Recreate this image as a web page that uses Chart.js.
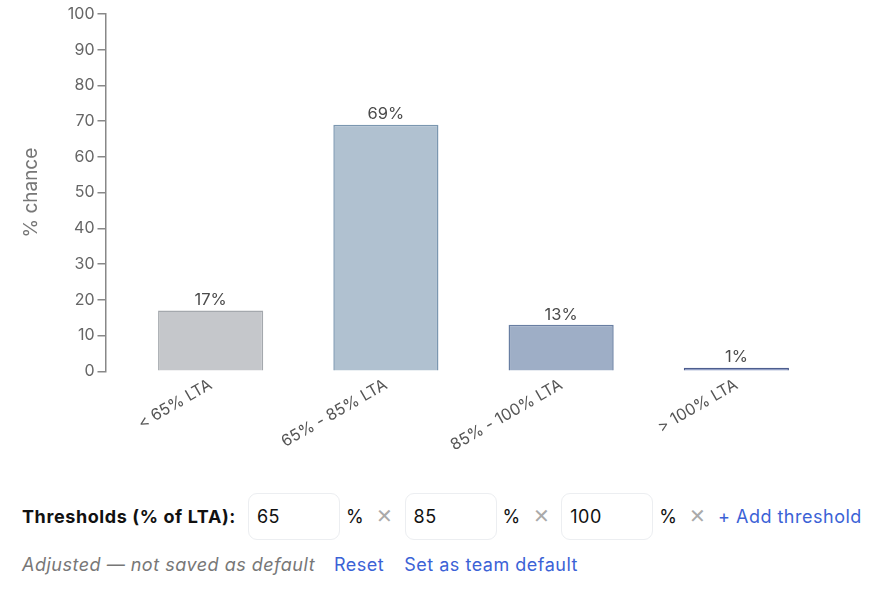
<!DOCTYPE html>
<html>
<head>
<meta charset="utf-8">
<script src="https://cdn.jsdelivr.net/npm/chart.js@4"></script>
<style>
  body { margin: 0; background: #fff; font-family: Inter, "Liberation Sans", sans-serif; }
  #wrap { position: relative; width: 888px; height: 604px; }
  #chartBox { position: absolute; left: 0; top: 0; width: 888px; height: 459px; }
  .row { position: absolute; left: 22px; display: flex; align-items: center; font-size: 18px; letter-spacing: 0.5px; }
  #row1 { top: 492px; height: 48px; }
  #row2 { top: 551px; height: 26px; }
  .lbl { font-weight: 700; color: #111; margin-right: 12px; letter-spacing: 0.6px; }
  .inp { width: 92px; height: 47px; box-sizing: border-box; border: 1px solid #eceef1; border-radius: 9px;
         padding-left: 8px; display: flex; align-items: center; color: #111; }
  .pct { color: #111; margin-left: 6px; }
  .x { color: #aaa; margin-left: 12px; margin-right: 11px; font-size: 20px; font-weight: 300; }
  .link { color: #3b62d6; }
  .note { color: #777; font-style: italic; margin-right: 19px; }
</style>
</head>
<body>
<div id="wrap">
  <div id="chartBox"><canvas id="grafico"></canvas></div>
  <div class="row" id="row1">
    <span class="lbl">Thresholds (% of LTA):</span>
    <span class="inp">65</span><span class="pct">%</span><span class="x">✕</span>
    <span class="inp">85</span><span class="pct">%</span><span class="x">✕</span>
    <span class="inp">100</span><span class="pct">%</span><span class="x">✕</span>
    <span class="link">+ Add threshold</span>
  </div>
  <div class="row" id="row2">
    <span class="note">Adjusted — not saved as default</span>
    <span class="link" style="margin-right:20px">Reset</span>
    <span class="link">Set as team default</span>
  </div>
</div>
<script>
const categorias = ["< 65% LTA", "65% - 85% LTA", "85% - 100% LTA", "> 100% LTA"];
const chances = [17, 69, 13, 1];
const rotulos = ["17%", "69%", "13%", "1%"];
const ticksY = [0, 10, 20, 30, 40, 50, 60, 70, 80, 90, 100];
const coresFundo = ["#c5c7cb", "#b0c1d0", "#9eaec6", "#7c8cba"];
const coresBorda = ["#a4a8ad", "#7b97b0", "#687ea2", "#4d5d8e"];

const fonte = "Inter, 'Liberation Sans', sans-serif";

// rótulos em cima das barras
const rotuloBarras = {
  id: "rotuloBarras",
  afterDatasetsDraw(chart) {
    const ctx = chart.ctx;
    const meta = chart.getDatasetMeta(0);
    ctx.save();
    ctx.font = "16.5px " + fonte;
    ctx.fillStyle = "#4a4a4a";
    ctx.textAlign = "center";
    ctx.textBaseline = "bottom";
    meta.data.forEach((bar, i) => {
      ctx.fillText(rotulos[i], bar.x, bar.y - 2);
    });
    ctx.restore();
  }
};

document.addEventListener("DOMContentLoaded", () => {
  const ctx = document.getElementById("grafico").getContext("2d");
  new Chart(ctx, {
    type: "bar",
    data: {
      datasets: [{
        data: chances.map((v, i) => ({ x: i, y: v })),
        backgroundColor: coresFundo,
        borderColor: coresBorda,
        borderWidth: 1.5,
        barPercentage: 0.6,
        categoryPercentage: 1
      }]
    },
    options: {
      responsive: true,
      maintainAspectRatio: false,
      animation: false,
      layout: { padding: { top: 14, right: 64, left: 20 } },
      plugins: { legend: { display: false }, tooltip: { enabled: false } },
      scales: {
        x: {
          type: "linear",
          offset: false,
          min: -0.6,
          max: 3.5,
          afterBuildTicks: axis => { axis.ticks = categorias.map((c, i) => ({ value: i })); },
          afterFit: axis => { axis.paddingLeft = 0; axis.paddingRight = 0; },
          grid: { display: false, drawTicks: false },
          border: { display: false },
          ticks: {
            callback: v => categorias[v],
            color: "#555",
            font: { size: 16, family: fonte },
            minRotation: 30,
            maxRotation: 30,
            padding: 4
          }
        },
        y: {
          min: 0,
          max: 100,
          afterBuildTicks: axis => { axis.ticks = ticksY.map(v => ({ value: v })); },
          grid: { display: true, drawOnChartArea: false, drawTicks: true, tickLength: 8, color: "#888", lineWidth: 1.5 },
          border: { display: true, color: "#888", width: 1.5 },
          ticks: {
            color: "#666",
            font: { size: 16, family: fonte },
            padding: 3
          },
          title: {
            display: true,
            text: "% chance",
            color: "#777",
            font: { size: 19, family: fonte },
            padding: { top: 0, bottom: 22 }
          }
        }
      }
    },
    plugins: [rotuloBarras]
  });
});
</script>
</body>
</html>
